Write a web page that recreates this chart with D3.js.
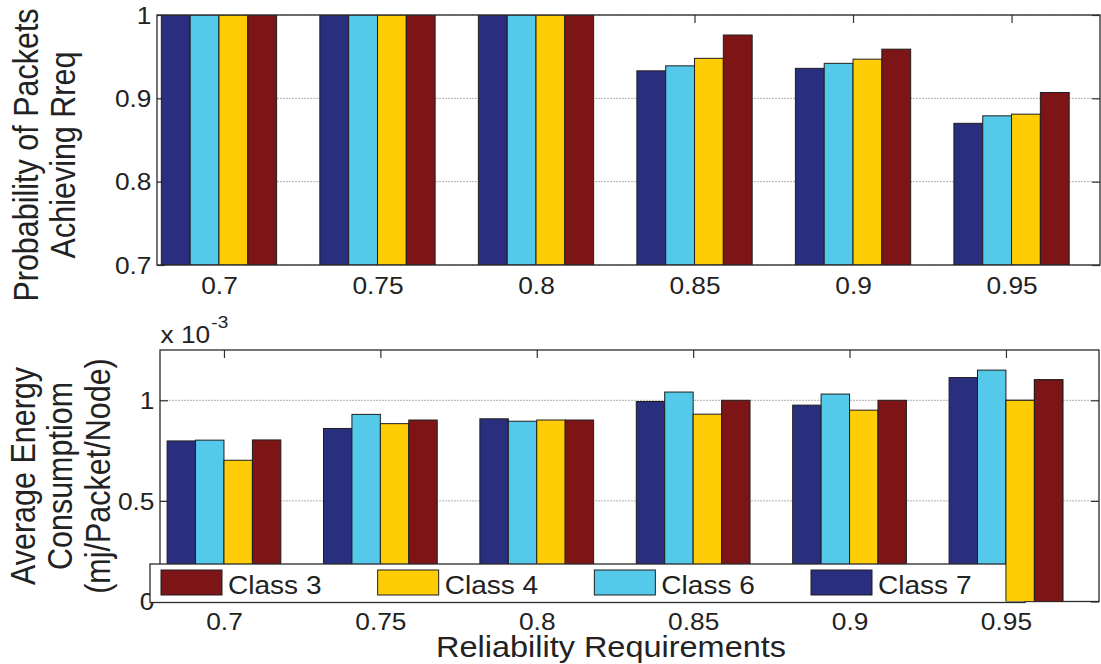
<!DOCTYPE html>
<html>
<head>
<meta charset="utf-8">
<script src="https://cdn.jsdelivr.net/npm/d3@7"></script>
<style>
  html, body { margin: 0; padding: 0; background: #fff; }
  svg { display: block; font-family: "Liberation Sans", Arial, Helvetica, sans-serif; }
</style>
</head>
<body>
<script>
// Reliability requirement categories (x axis)
const categories = ["0.7", "0.75", "0.8", "0.85", "0.9", "0.95"];

// Series, in the order the bars sit inside each group
const seriesNames = ["Class 7", "Class 6", "Class 4", "Class 3"];
const seriesColors = ["#2a2e7e", "#54c9e9", "#ffcd06", "#7d1517"];

// Probability of packets achieving Rreq
const probClass7 = [1, 1, 1, 0.933, 0.936, 0.870];
const probClass6 = [1, 1, 1, 0.939, 0.942, 0.879];
const probClass4 = [1, 1, 1, 0.948, 0.947, 0.881];
const probClass3 = [1, 1, 1, 0.976, 0.959, 0.907];

// Average energy consumption (mJ / packet / node)
const energyClass7 = [0.798e-3, 0.860e-3, 0.908e-3, 0.994e-3, 0.976e-3, 1.113e-3];
const energyClass6 = [0.802e-3, 0.930e-3, 0.896e-3, 1.041e-3, 1.031e-3, 1.150e-3];
const energyClass4 = [0.702e-3, 0.884e-3, 0.902e-3, 0.931e-3, 0.951e-3, 1.000e-3];
const energyClass3 = [0.803e-3, 0.902e-3, 0.902e-3, 1.000e-3, 1.000e-3, 1.102e-3];

// Tick values
const probTicks = [0.7, 0.8, 0.9, 1];
const energyTicks = [0, 0.5e-3, 1e-3];

// Legend order
const legendOrder = ["Class 3", "Class 4", "Class 6", "Class 7"];

const W = 1101, H = 664;
const SX = 1.12;            // horizontal glyph stretch
const INK = "#222";
const TICK_FS = 23.5, LABEL_FS = 30.5;

const svg = d3.select("body").append("svg").attr("width", W).attr("height", H);

const groupWidth = 4 / 5.5;               // grouped-bar width in x units
const barW = groupWidth / seriesNames.length;

function panel(cfg) {
  const { left, right, top, bottom, xlim, ydomain, ticks, tickFmt, series, legend } = cfg;
  const x = d3.scaleLinear().domain(xlim).range([left, right]);
  const y = d3.scaleLinear().domain(ydomain).range([bottom, top]);
  const g = svg.append("g");
  const clipId = "clip" + Math.round(top);
  svg.append("clipPath").attr("id", clipId)
    .append("rect").attr("x", left).attr("y", top).attr("width", right - left).attr("height", bottom - top);

  // grid
  g.append("g").selectAll("line").data(ticks).join("line")
    .attr("x1", left).attr("x2", right)
    .attr("y1", d => y(d)).attr("y2", d => y(d))
    .attr("stroke", "#b0b0b0").attr("stroke-width", 1).attr("stroke-dasharray", "2,1");

  const xt = d3.range(1, categories.length + 1);

  // inward tick marks on all four sides
  const axL = g.append("g").attr("transform", `translate(${left},0)`)
    .call(d3.axisLeft(y).tickValues(ticks).tickSize(-8).tickPadding(0).tickFormat(tickFmt));
  const axR = g.append("g").attr("transform", `translate(${right},0)`)
    .call(d3.axisRight(y).tickValues(ticks).tickSize(-8).tickFormat(""));
  const axT = g.append("g").attr("transform", `translate(0,${top})`)
    .call(d3.axisTop(x).tickValues(xt).tickSize(-8).tickFormat(""));
  const axB = g.append("g").attr("transform", `translate(0,${bottom})`)
    .call(d3.axisBottom(x).tickValues(xt).tickSize(-8).tickPadding(12).tickFormat(d => categories[d - 1]));

  [axL, axR, axT, axB].forEach(a => {
    a.select(".domain").remove();
    a.selectAll(".tick line").attr("stroke", "#333").attr("stroke-width", 1.2);
    a.selectAll("text").attr("fill", INK).attr("font-size", TICK_FS)
      .attr("font-family", "Liberation Sans, Arial, sans-serif");
  });
  axL.selectAll("text").attr("x", -5.5 / SX).attr("dy", "0.35em").attr("transform", `scale(${SX},1)`);
  axB.selectAll("text").attr("transform", `scale(${SX},1)`);

  // bars
  const rows = [];
  series.forEach((vals, s) => vals.forEach((v, i) => rows.push({ s, i, v })));
  const bars = g.append("g").attr("clip-path", `url(#${clipId})`)
    .selectAll("rect").data(rows).join("rect")
    .attr("x", d => x(d.i + 1 - groupWidth / 2 + d.s * barW))
    .attr("width", d => x(barW) - x(0))
    .attr("y", d => y(d.v))
    .attr("height", d => y(ydomain[0]) - y(d.v))
    .attr("fill", d => seriesColors[d.s])
    .attr("stroke", "#1e1e1e").attr("stroke-width", 1);

  // axes box
  g.append("rect").attr("x", left).attr("y", top)
    .attr("width", right - left).attr("height", bottom - top)
    .attr("fill", "none").attr("stroke", "#2a2a2a").attr("stroke-width", 1.3);

  return { x, y, g, bars };
}

// ---- Top panel: probability ----
panel({
  left: 157, right: 1100, top: 15, bottom: 265,
  xlim: [0.609, 6.558], ydomain: [0.7, 1],
  ticks: probTicks, tickFmt: d => (d === 1 ? "1" : d3.format(".1f")(d)),
  series: [probClass7, probClass6, probClass4, probClass3]
});

// ---- Bottom panel: energy ----
const bottomPanel = panel({
  left: 160, right: 1099, top: 350, bottom: 601.5,
  xlim: [0.591, 6.595], ydomain: [0, 1.25e-3],
  ticks: energyTicks, tickFmt: d => d3.format("~g")(d * 1e3),
  series: [energyClass7, energyClass6, energyClass4, energyClass3]
});

// exponent label
const expo = svg.append("text").attr("fill", INK)
  .attr("transform", `translate(160.5,343) scale(${SX},1)`).attr("font-size", TICK_FS);
expo.append("tspan").text("x 10");
expo.append("tspan").attr("font-size", 17).attr("dy", -15).attr("dx", 1).text("-3");

// y labels (rotated, one text per line)
function yLabel(lines, cy) {
  lines.forEach(([txt, bx]) => {
    svg.append("text").attr("fill", INK).attr("font-size", LABEL_FS)
      .attr("text-anchor", "middle")
      .attr("transform", `translate(${bx},${cy}) scale(${SX},1) rotate(-90)`)
      .text(txt);
  });
}
yLabel([["Probability of Packets", 38], ["Achieving Rreq", 75]], 155);
yLabel([["Average Energy", 35], ["Consumptiom", 72], ["(mj/Packet/Node)", 109.5]], 476);

// x label
svg.append("text").attr("fill", INK).attr("font-size", 29).attr("text-anchor", "middle")
  .attr("transform", `translate(611,656.5) scale(${SX},1)`)
  .text("Reliability Requirements");

// ---- Legend ----
const lg = { x: 150, y: 564, w: 875, h: 38.5 };
const legend = svg.append("g");
legend.append("rect").attr("x", lg.x).attr("y", lg.y).attr("width", lg.w).attr("height", lg.h)
  .attr("fill", "#fff").attr("stroke", "#2a2a2a").attr("stroke-width", 1.3);
const itemX = d3.scalePoint().domain(legendOrder).range([161, 811]);
legendOrder.forEach(name => {
  const s = seriesNames.indexOf(name);
  const ix = itemX(name);
  legend.append("rect").attr("x", ix).attr("y", 570).attr("width", 61).attr("height", 25)
    .attr("fill", seriesColors[s]).attr("stroke", "#1e1e1e").attr("stroke-width", 1);
  legend.append("text").attr("fill", INK).attr("font-size", 25.5)
    .attr("transform", `translate(${ix + 67},594) scale(1.1,1)`).text(name);
});

// bars that run past the legend's right edge are stacked above it
bottomPanel.bars.filter(function () {
  return +this.getAttribute("x") + +this.getAttribute("width") > lg.x + lg.w;
}).each(function () {
  const parent = this.parentNode;
  const clone = this.cloneNode(true);
  svg.node().appendChild(clone);
  d3.select(clone).attr("clip-path", parent.getAttribute("clip-path"));
});
</script>
</body>
</html>
